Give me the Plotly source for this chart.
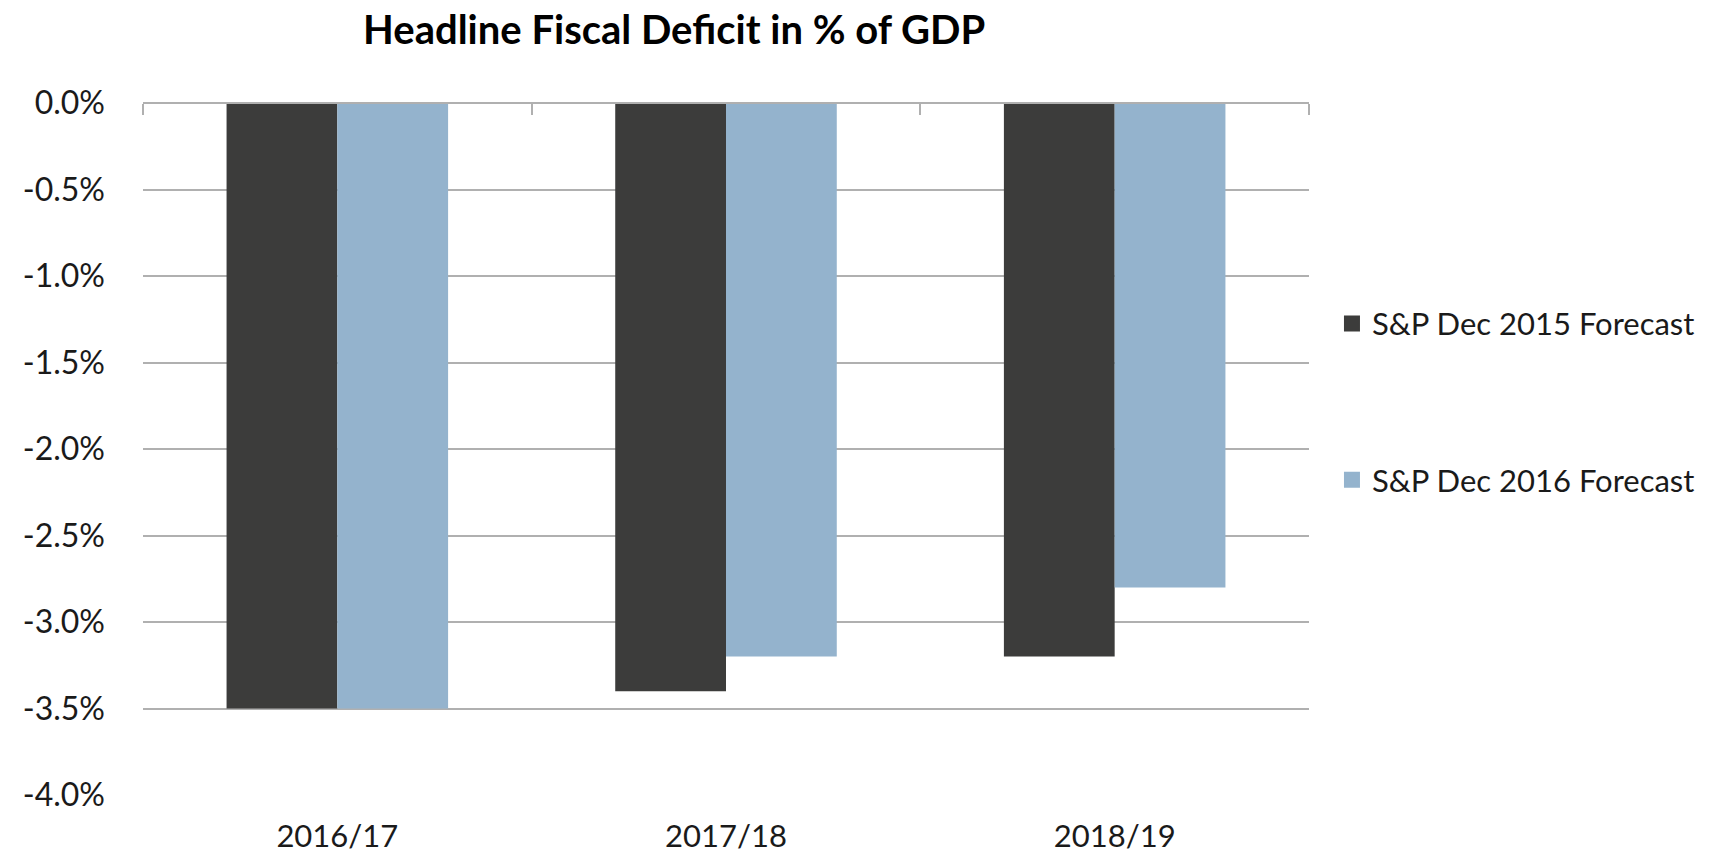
import plotly.graph_objects as go

# Fiscal years and forecast values (% of GDP)
years = ["2016/17", "2017/18", "2018/19"]
forecast_dec_2015 = [-3.5, -3.4, -3.2]
forecast_dec_2016 = [-3.5, -3.2, -2.8]
series_names = ["S&P Dec 2015 Forecast", "S&P Dec 2016 Forecast"]
y_ticks = [0.0, -0.5, -1.0, -1.5, -2.0, -2.5, -3.0, -3.5, -4.0]
y_tick_labels = [f"{v:.1f}%" for v in y_ticks]

DARK = "#3c3c3b"
LIGHT = "#94b3cd"
GRID = "#b0b0b0"
FONT = "Lato"

n = len(years)
# category boundaries for the tick marks hanging from the zero line
boundaries = [i - 0.5 for i in range(n + 1)]

fig = go.Figure()

fig.add_trace(go.Bar(x=years, y=forecast_dec_2015, marker_color=DARK,
                     marker_line_width=0, showlegend=False))
fig.add_trace(go.Bar(x=years, y=forecast_dec_2016, marker_color=LIGHT,
                     marker_line_width=0, showlegend=False))

# empty trace that activates the zero-line axis with boundary ticks
fig.add_trace(go.Scatter(x=[None], y=[None], xaxis="x2", mode="markers",
                         showlegend=False, hoverinfo="skip"))

# legend entries with larger square swatches, one legend per series
fig.add_trace(go.Scatter(x=[None], y=[None], mode="markers", name=series_names[0],
                         marker=dict(symbol="square", size=20, color=DARK),
                         legend="legend"))
fig.add_trace(go.Scatter(x=[None], y=[None], mode="markers", name=series_names[1],
                         marker=dict(symbol="square", size=20, color=LIGHT),
                         legend="legend2"))

legend_style = dict(font=dict(family=FONT, size=31, color="#1a1a1a"),
                    bgcolor="rgba(0,0,0,0)", borderwidth=0,
                    xanchor="left", yanchor="middle", itemwidth=30)

fig.update_layout(
    width=1711, height=856,
    margin=dict(l=143, r=402, t=103, b=61, autoexpand=False),
    paper_bgcolor="white", plot_bgcolor="white",
    barmode="group", bargap=0.43, bargroupgap=0,
    font=dict(family=FONT, size=32, color="#1a1a1a"),
    title=dict(text="<b>Headline Fiscal Deficit in % of GDP</b>",
               font=dict(family=FONT, size=40, color="#000000"),
               x=0.394, xanchor="center", xref="container",
               y=1 - 30 / 856, yanchor="middle", yref="container"),
    xaxis=dict(type="category", categoryarray=years, side="bottom",
               showline=False, showgrid=False, ticks="",
               ticklabelstandoff=20,
               tickfont=dict(family=FONT, size=31, color="#1a1a1a")),
    # axis line sits on the zero line (top of the plot), ticks hang downward
    xaxis2=dict(overlaying="x", anchor="free", position=1.0, side="bottom",
                range=[-0.5, n - 0.5],
                tickvals=boundaries, showticklabels=False, showgrid=False,
                zeroline=False, showline=True, linecolor=GRID, linewidth=2,
                ticks="outside", ticklen=11, tickcolor=GRID, tickwidth=2),
    yaxis=dict(range=[-4.0, 0.0], tickvals=y_ticks, ticktext=y_tick_labels,
               showgrid=True, gridcolor=GRID, gridwidth=2,
               zeroline=False, showline=False, ticks="",
               ticklabelstandoff=37,
               tickfont=dict(family=FONT, size=32, color="#1a1a1a")),
    legend=dict(x=1.0197, y=0.681, **legend_style),
    legend2=dict(x=1.0197, y=0.455, **legend_style),
)

fig.write_html("out.html")
